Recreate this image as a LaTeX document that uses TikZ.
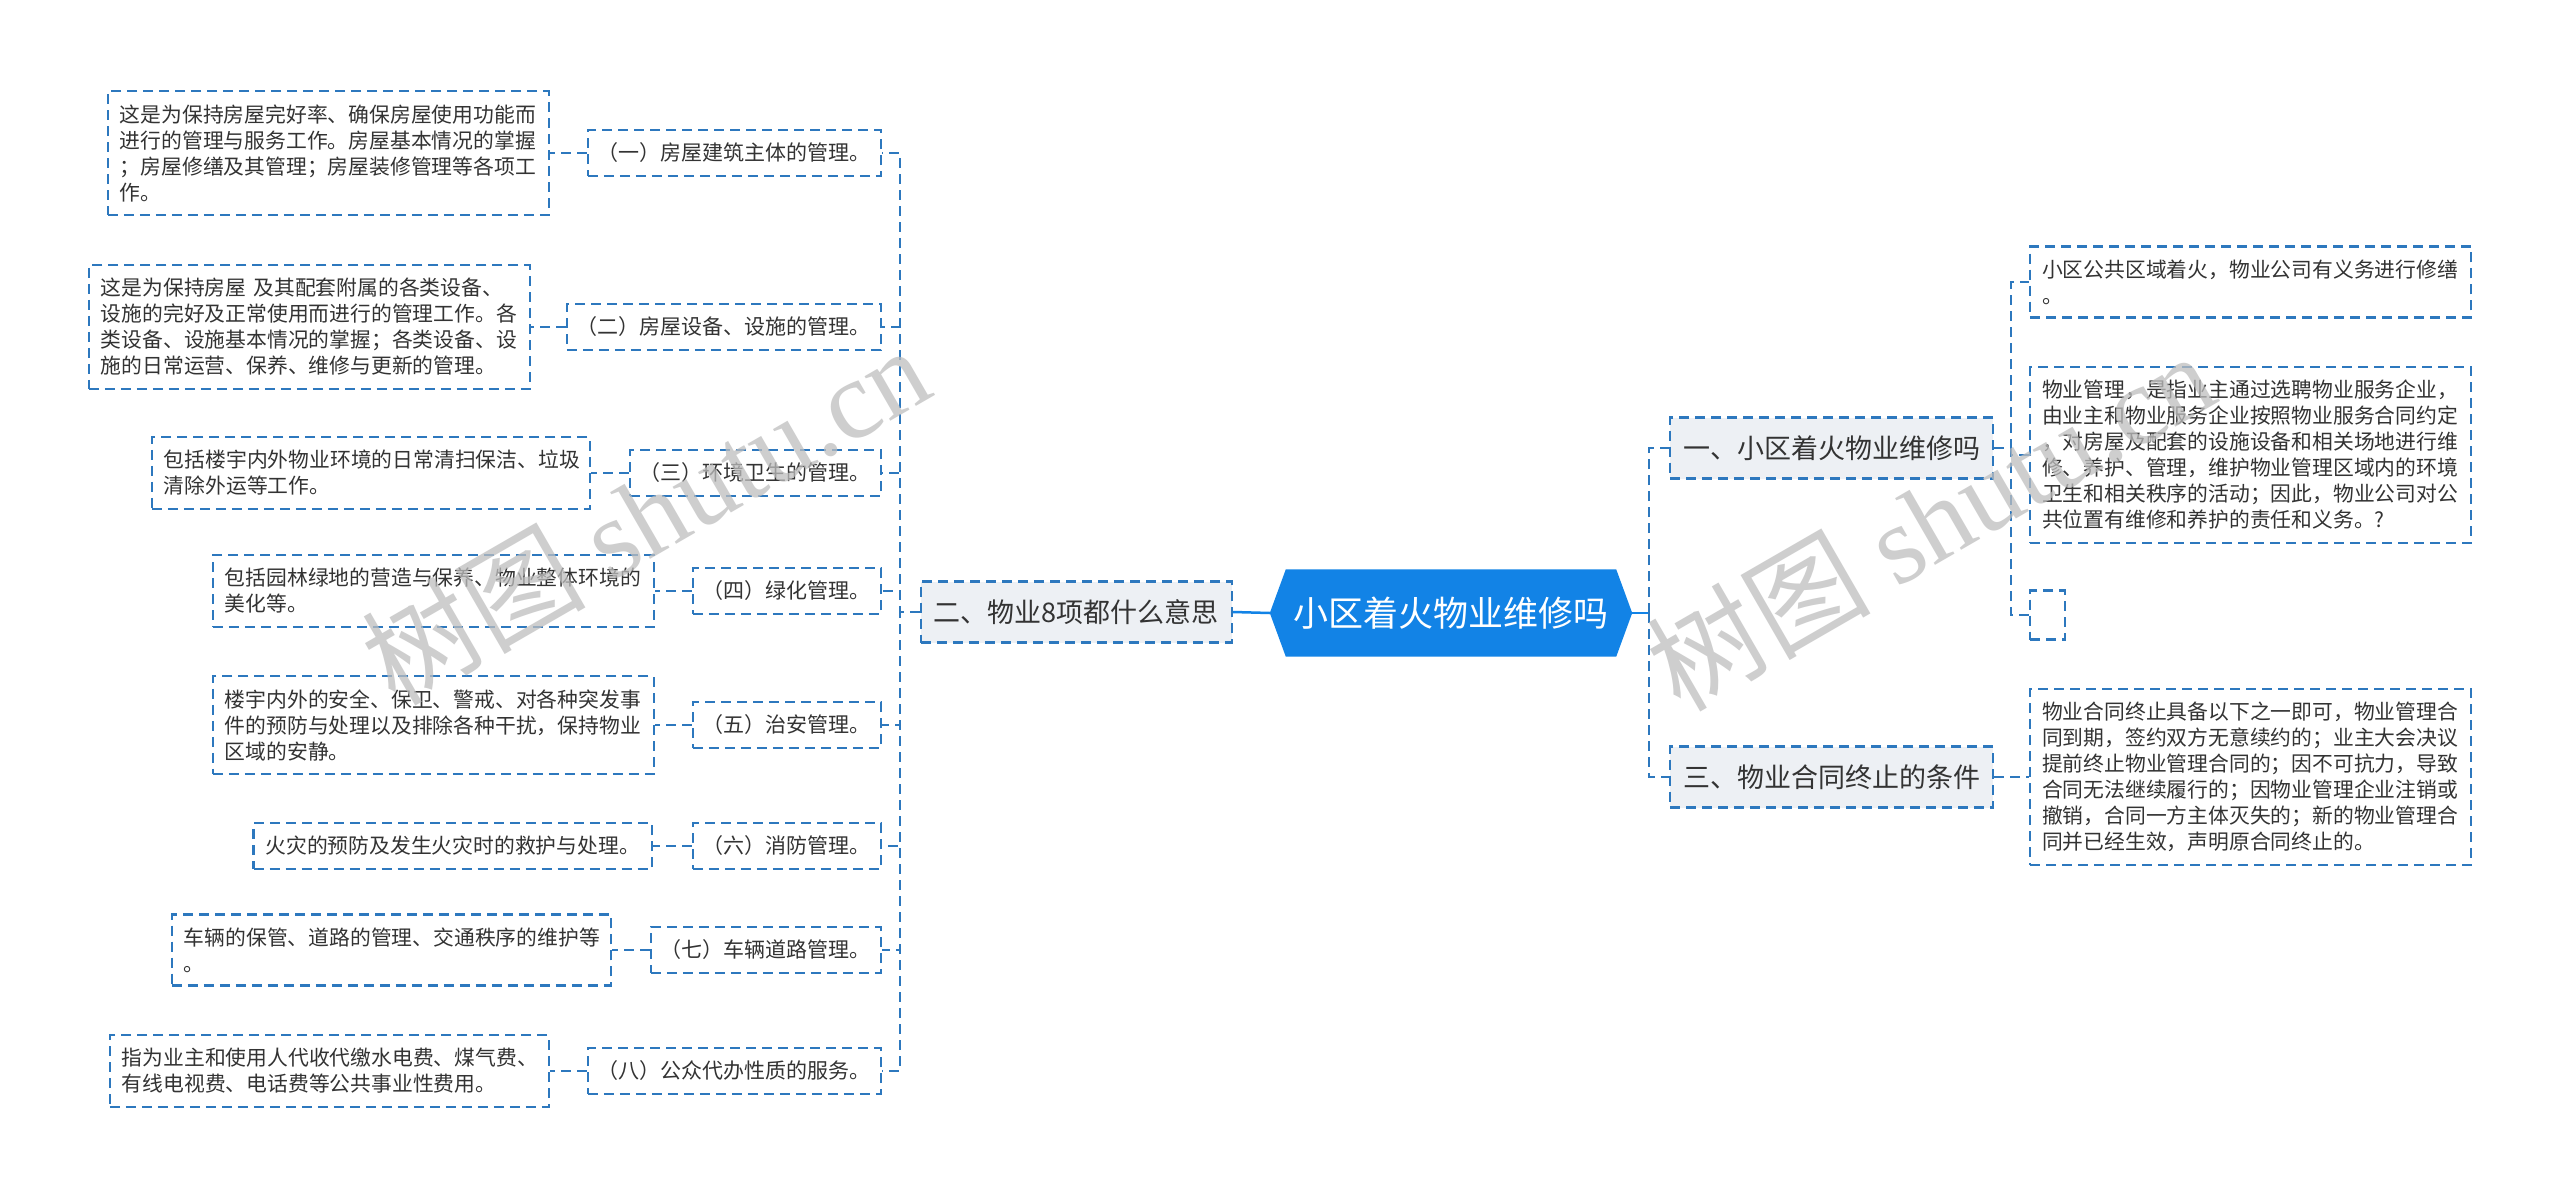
\documentclass[tikz,border=0pt]{standalone}
\usepackage{fontspec}
\setmainfont{Noto Sans CJK SC}
\newfontfamily\wmserif{Liberation Serif}
\usetikzlibrary{backgrounds}
\definecolor{lineblue}{HTML}{2D78BE}
\definecolor{rootblue}{HTML}{1283E6}
\definecolor{mainfill}{HTML}{EDF0F4}
\definecolor{txt}{HTML}{333333}
\definecolor{wmgray}{HTML}{BEBEBE}
\begin{document}
\begin{tikzpicture}[x=1pt,y=-1pt,
  box/.style={draw=lineblue, line width=2.2pt, dash pattern=on 10pt off 6pt, text=txt, align=left},
  leaf/.style={box, fill=white, font=\fontsize{20.8}{26}\selectfont, inner xsep=12pt, inner ysep=13pt},
  sub/.style={box, fill=white, font=\fontsize{21}{26}\selectfont, inner xsep=10pt, inner ysep=4pt, minimum height=46pt},
  main/.style={box, fill=mainfill, font=\fontsize{27}{32}\selectfont, inner xsep=13pt, inner ysep=4pt, minimum height=61pt},
  rootnode/.style={text=white, font=\fontsize{35}{40}\selectfont, minimum width=330pt, minimum height=87pt, inner sep=0pt},
  conn/.style={draw=lineblue, line width=2.2pt, dash pattern=on 10pt off 6pt},
  rootline/.style={draw=rootblue, line width=2.5pt},
  wm/.style={text=wmgray, opacity=0.75, font=\fontsize{112}{120}\selectfont}
]
\useasboundingbox (0,0) rectangle (2560,1199);

% root
\node[rootnode] (root) at (1451,613) {小区着火物业维修吗};
\begin{scope}[on background layer]
  \fill[white] (0,0) rectangle (2560,1199);
  \fill[rootblue] (root.north west) -- (root.north east) -- ([xshift=16pt]root.east) -- (root.south east) -- (root.south west) -- ([xshift=-16pt]root.west) -- cycle;
\end{scope}

% main branches
\node[main, anchor=east] (m2) at (1233,612) {二、物业8项都什么意思};
\node[main, anchor=west] (m1) at (1669,448) {一、小区着火物业维修吗};
\node[main, anchor=west] (m3) at (1669,777) {三、物业合同终止的条件};

% left sub-branches
\node[sub, anchor=east] (s1) at (882,153) {（一）房屋建筑主体的管理。};
\node[sub, anchor=east] (s2) at (882,327) {（二）房屋设备、设施的管理。};
\node[sub, anchor=east] (s3) at (882,473) {（三）环境卫生的管理。};
\node[sub, anchor=east] (s4) at (882,591) {（四）绿化管理。};
\node[sub, anchor=east] (s5) at (882,725) {（五）治安管理。};
\node[sub, anchor=east] (s6) at (882,846) {（六）消防管理。};
\node[sub, anchor=east] (s7) at (882,950) {（七）车辆道路管理。};
\node[sub, anchor=east] (s8) at (882,1071) {（八）公众代办性质的服务。};

% left leaves
\node[leaf, anchor=east, text width=417pt] (l1) at (550,153) {这是为保持房屋完好率、确保房屋使用功能而\\进行的管理与服务工作。房屋基本情况的掌握\\；房屋修缮及其管理；房屋装修管理等各项工\\作。};
\node[leaf, anchor=east, text width=417pt] (l2) at (531,327) {这是为保持房屋 及其配套附属的各类设备、\\设施的完好及正常使用而进行的管理工作。各\\类设备、设施基本情况的掌握；各类设备、设\\施的日常运营、保养、维修与更新的管理。};
\node[leaf, anchor=east, text width=414pt] (l3) at (591,473) {包括楼宇内外物业环境的日常清扫保洁、垃圾\\清除外运等工作。};
\node[leaf, anchor=east, text width=417pt] (l4) at (655,591) {包括园林绿地的营造与保养、物业整体环境的\\美化等。};
\node[leaf, anchor=east, text width=417pt] (l5) at (655,725) {楼宇内外的安全、保卫、警戒、对各种突发事\\件的预防与处理以及排除各种干扰，保持物业\\区域的安静。};
\node[leaf, anchor=east] (l6) at (653,846) {火灾的预防及发生火灾时的救护与处理。};
\node[leaf, anchor=east, text width=415pt] (l7) at (612,950) {车辆的保管、道路的管理、交通秩序的维护等\\。};
\node[leaf, anchor=east, text width=415pt] (l8) at (550,1071) {指为业主和使用人代收代缴水电费、煤气费、\\有线电视费、电话费等公共事业性费用。};

% right leaves
\node[leaf, anchor=west, text width=417pt] (ra) at (2029,282) {小区公共区域着火，物业公司有义务进行修缮\\。};
\node[leaf, anchor=west, text width=417pt] (rb) at (2029,455) {物业管理，是指业主通过选聘物业服务企业，\\由业主和物业服务企业按照物业服务合同约定\\，对房屋及配套的设施设备和相关场地进行维\\修、养护、管理，维护物业管理区域内的环境\\卫生和相关秩序的活动；因此，物业公司对公\\共位置有维修和养护的责任和义务。?};
\node[box, fill=white, anchor=west, minimum width=35pt, minimum height=49pt, inner sep=0pt] (rc) at (2029,615) {};
\node[leaf, anchor=west, text width=417pt] (rd) at (2029,777) {物业合同终止具备以下之一即可，物业管理合\\同到期，签约双方无意续约的；业主大会决议\\提前终止物业管理合同的；因不可抗力，导致\\合同无法继续履行的；因物业管理企业注销或\\撤销，合同一方主体灭失的；新的物业管理合\\同并已经生效，声明原合同终止的。};

% junction coordinates
\coordinate (lj) at (900,612);
\coordinate (rj) at (1649,613);
\coordinate (rj2) at (2011,448);

% connectors
\draw[rootline] ([xshift=-16pt]root.west) -- (m2.east);
\draw[rootline] ([xshift=16pt]root.east) -- (rj);
\draw[conn] (rj) |- (m1.west);
\draw[conn] (rj) |- (m3.west);
\foreach \i in {1,...,8}{
  \draw[conn] (m2.west) -- (lj) |- (s\i.east);
  \draw[conn] (s\i.west) -- (l\i.east);
}
\draw[conn] (m1.east) -- (rj2) |- (ra.west);
\draw[conn] (m1.east) -- (rj2) |- (rb.west);
\draw[conn] (m1.east) -- (rj2) |- (rc.west);
\draw[conn] (m3.east) -- (rd.west);

% watermarks
\node[wm, rotate=30] (wm1) at (645,514) {树图 {\wmserif shutu.cn}};
\node[wm, rotate=30] (wm2) at (1930,520) {树图 {\wmserif shutu.cn}};
\end{tikzpicture}
\end{document}
